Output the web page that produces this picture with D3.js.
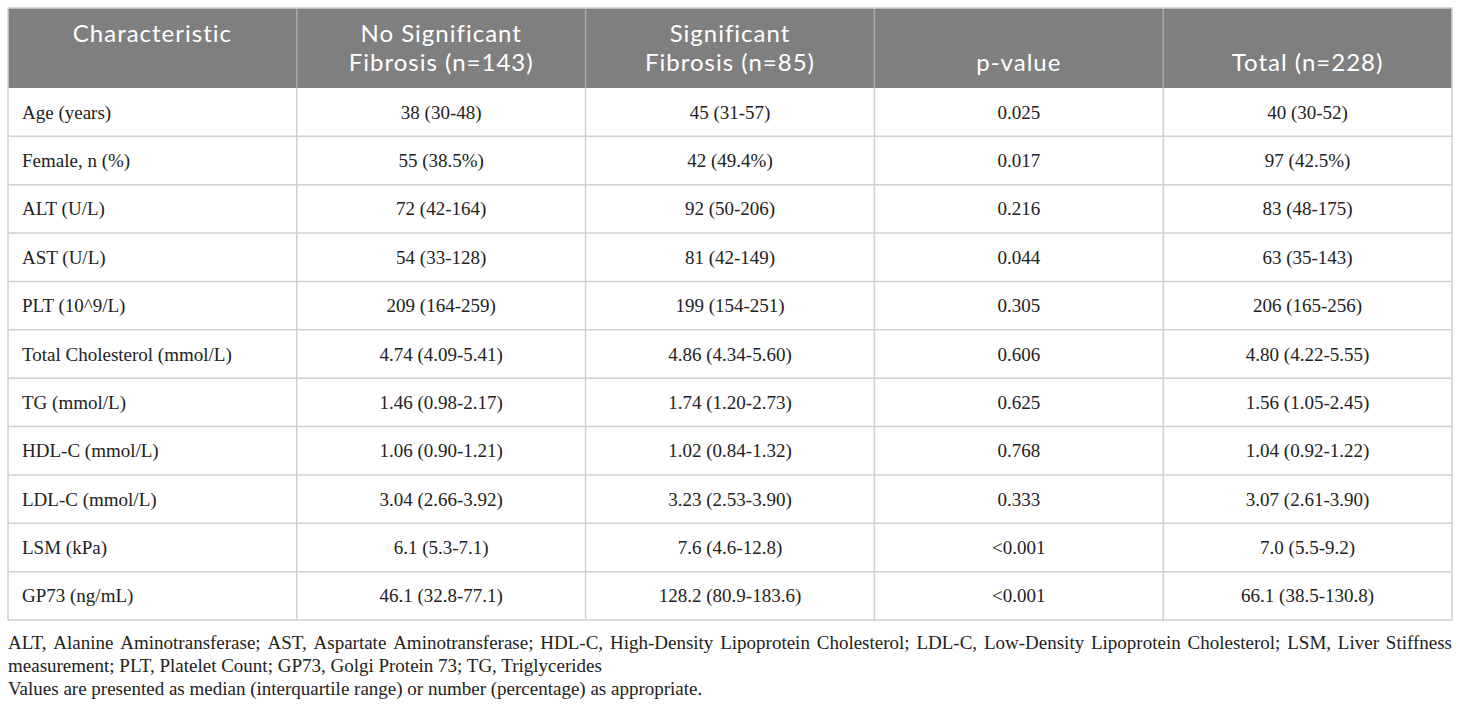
<!DOCTYPE html>
<html>
<head>
<meta charset="utf-8">
<script src="https://cdn.jsdelivr.net/npm/d3@7"></script>
<style>
  body { margin: 0; background: #fff; }
  svg { display: block; }
</style>
</head>
<body>
<div id="container"></div>
<script>
// table values
const headers = [
  ['Characteristic'],
  ['No Significant', 'Fibrosis (n=143)'],
  ['Significant', 'Fibrosis (n=85)'],
  ['p-value'],
  ['Total (n=228)']
];
const characteristics = [
  'Age (years)', 'Female, n (%)', 'ALT (U/L)', 'AST (U/L)', 'PLT (10^9/L)',
  'Total Cholesterol (mmol/L)', 'TG (mmol/L)', 'HDL-C (mmol/L)', 'LDL-C (mmol/L)',
  'LSM (kPa)', 'GP73 (ng/mL)'
];
const noSigFibrosis = [
  '38 (30-48)', '55 (38.5%)', '72 (42-164)', '54 (33-128)', '209 (164-259)',
  '4.74 (4.09-5.41)', '1.46 (0.98-2.17)', '1.06 (0.90-1.21)', '3.04 (2.66-3.92)',
  '6.1 (5.3-7.1)', '46.1 (32.8-77.1)'
];
const sigFibrosis = [
  '45 (31-57)', '42 (49.4%)', '92 (50-206)', '81 (42-149)', '199 (154-251)',
  '4.86 (4.34-5.60)', '1.74 (1.20-2.73)', '1.02 (0.84-1.32)', '3.23 (2.53-3.90)',
  '7.6 (4.6-12.8)', '128.2 (80.9-183.6)'
];
const pValues = [
  '0.025', '0.017', '0.216', '0.044', '0.305', '0.606', '0.625', '0.768', '0.333',
  '<0.001', '<0.001'
];
const totals = [
  '40 (30-52)', '97 (42.5%)', '83 (48-175)', '63 (35-143)', '206 (165-256)',
  '4.80 (4.22-5.55)', '1.56 (1.05-2.45)', '1.04 (0.92-1.22)', '3.07 (2.61-3.90)',
  '7.0 (5.5-9.2)', '66.1 (38.5-130.8)'
];
const footnotes = [
  'ALT, Alanine Aminotransferase; AST, Aspartate Aminotransferase; HDL-C, High-Density Lipoprotein Cholesterol; LDL-C, Low-Density Lipoprotein Cholesterol; LSM, Liver Stiffness',
  'measurement; PLT, Platelet Count; GP73, Golgi Protein 73; TG, Triglycerides',
  'Values are presented as median (interquartile range) or number (percentage) as appropriate.'
];

const width = 1460, height = 706;
const tLeft = 8, tRight = 1452, tTop = 8, headBottom = 88, tableBottom = 620;
const serif = '"Liberation Serif", "Times New Roman", serif';
const sans = 'Lato, "Open Sans", sans-serif';

const svg = d3.select('#container')
  .append('svg')
  .attr('width', width)
  .attr('height', height);

// 1. scales
const x = d3.scaleBand().domain(d3.range(headers.length)).range([tLeft, tRight]);
const y = d3.scaleBand().domain(characteristics).range([headBottom, tableBottom]);

// 2. header
svg.append('rect')
  .attr('x', tLeft).attr('y', tTop)
  .attr('width', tRight - tLeft).attr('height', headBottom - tTop)
  .attr('fill', '#7f7f7f');

const head = svg.selectAll('.head')
  .data(headers)
  .enter()
  .append('text')
  .attr('class', 'head')
  .attr('text-anchor', 'middle')
  .attr('font-family', sans)
  .attr('font-size', 24)
  .attr('letter-spacing', 1)
  .attr('fill', '#fff');

head.selectAll('tspan')
  .data((d, i) => {
    // first column top aligned, p-value and total bottom aligned
    const start = (i == 0 || d.length == 2) ? 0 : 1;
    return d.map((t, j) => ({ t, col: i, line: start + j }));
  })
  .enter()
  .append('tspan')
  .attr('x', d => x(d.col) + x.bandwidth() / 2)
  .attr('y', d => 42 + d.line * 28.5)
  .text(d => d.t);

// 3. body cells
const rows = characteristics.map((c, i) => [c, noSigFibrosis[i], sigFibrosis[i], pValues[i], totals[i]]);

const row = svg.selectAll('.row')
  .data(rows)
  .enter()
  .append('g')
  .attr('class', 'row')
  .attr('transform', (d, i) => `translate(0,${y(characteristics[i]) + y.bandwidth() / 2 + 6.5})`);

row.selectAll('text')
  .data(d => d)
  .enter()
  .append('text')
  .attr('x', (d, i) => i == 0 ? x(0) + 14 : x(i) + x.bandwidth() / 2)
  .attr('text-anchor', (d, i) => i == 0 ? 'start' : 'middle')
  .attr('font-family', serif)
  .attr('font-size', 19)
  .attr('fill', '#222')
  .text(d => d);

// 4. grid lines
svg.selectAll('.hline')
  .data(characteristics.slice(1))
  .enter()
  .append('line')
  .attr('x1', tLeft).attr('x2', tRight)
  .attr('y1', d => y(d)).attr('y2', d => y(d))
  .attr('stroke', '#d0d0d0')
  .attr('stroke-width', 1.5);

svg.selectAll('.vline')
  .data(d3.range(1, headers.length))
  .enter()
  .append('line')
  .attr('x1', d => x(d)).attr('x2', d => x(d))
  .attr('y1', headBottom).attr('y2', tableBottom)
  .attr('stroke', '#d0d0d0')
  .attr('stroke-width', 1.5);

svg.selectAll('.vhead')
  .data(d3.range(1, headers.length))
  .enter()
  .append('line')
  .attr('x1', d => x(d)).attr('x2', d => x(d))
  .attr('y1', tTop).attr('y2', headBottom)
  .attr('stroke', '#a8a8a8')
  .attr('stroke-width', 1.5);

svg.append('rect')
  .attr('x', tLeft).attr('y', tTop)
  .attr('width', tRight - tLeft).attr('height', tableBottom - tTop)
  .attr('fill', 'none')
  .attr('stroke', '#cfcfcf')
  .attr('stroke-width', 1.5);

// 5. footnotes, first line justified
footnotes.forEach((line, i) => {
  const baseline = 649 + i * 23;
  if (i == 0) {
    const words = line.split(' ');
    const g = svg.append('g');
    const ws = words.map(w => g.append('text')
      .attr('font-family', serif)
      .attr('font-size', 19)
      .attr('fill', '#222')
      .attr('y', baseline)
      .text(w));
    const lens = ws.map(t => t.node().getComputedTextLength());
    const gap = (tRight - tLeft - d3.sum(lens)) / (words.length - 1);
    let cx = tLeft;
    ws.forEach((t, j) => { t.attr('x', cx); cx += lens[j] + gap; });
  } else {
    svg.append('text')
      .attr('x', tLeft)
      .attr('y', baseline)
      .attr('font-family', serif)
      .attr('font-size', 19)
      .attr('fill', '#222')
      .text(line);
  }
});
</script>
</body>
</html>
